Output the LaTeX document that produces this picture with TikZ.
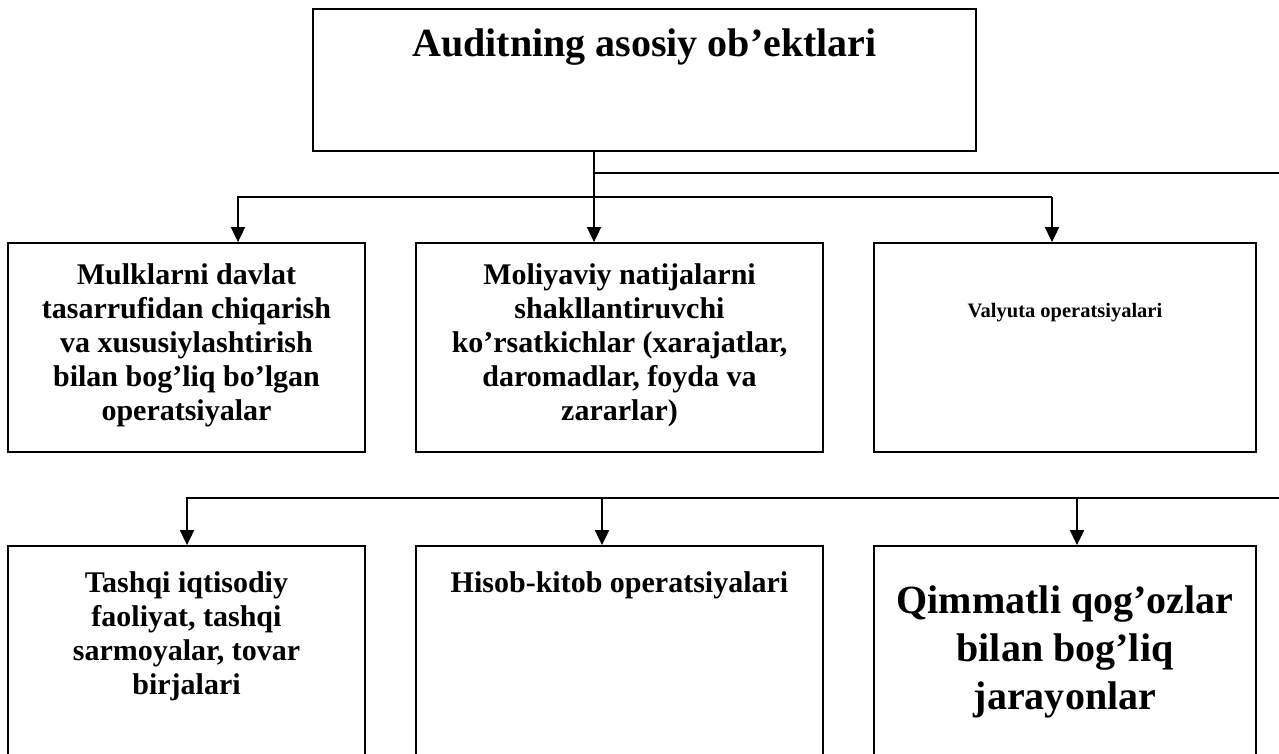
\documentclass[tikz,border=0pt]{standalone}
\usepackage{fontspec}
\setmainfont{Liberation Serif}
\usetikzlibrary{arrows.meta}
\begin{document}
\begin{tikzpicture}[x=1pt,y=-1pt,
  box/.style={draw, line width=1.8pt, inner sep=0pt},
  txt/.style={align=center, inner sep=0pt, anchor=north},
  mid/.style={font=\bfseries\fontsize{30}{34}\selectfont},
  big/.style={font=\bfseries\fontsize{40}{48}\selectfont},
  small/.style={font=\bfseries\fontsize{20.5}{24}\selectfont},
  conn/.style={line width=1.8pt},
  arr/.style={line width=1.8pt, -{Triangle[length=15pt,width=14pt]}}]
\useasboundingbox (0,0) rectangle (1279,753);
\clip (0,0) rectangle (1279,753);
% top box
\node[box, minimum width=663pt, minimum height=142pt] (top) at (644.5,80) {};
\node[txt, big] (ttop) at (644.5,29) {Auditning asosiy ob’ektlari};
% first row
\node[box, minimum width=357pt, minimum height=209pt] (b1) at (186.5,347.5) {};
\node[box, minimum width=407pt, minimum height=209pt] (b2) at (619.5,347.5) {};
\node[box, minimum width=382pt, minimum height=209pt] (b3) at (1065,347.5) {};
\node[txt, mid] (t1) at (186.5,263) {Mulklarni davlat\\tasarrufidan chiqarish\\va xususiylashtirish\\bilan bog’liq bo’lgan\\operatsiyalar};
\node[txt, mid] (t2) at (619.5,263) {Moliyaviy natijalarni\\shakllantiruvchi\\ko’rsatkichlar (xarajatlar,\\daromadlar, foyda va\\zararlar)};
\node[txt, small] (t3) at (1065,303) {Valyuta operatsiyalari};
% second row
\node[box, minimum width=357pt, minimum height=230pt] (b4) at (186.5,661) {};
\node[box, minimum width=407pt, minimum height=230pt] (b5) at (619.5,661) {};
\node[box, minimum width=382pt, minimum height=230pt] (b6) at (1065,661) {};
\node[txt, mid] (t4) at (186.5,571) {Tashqi iqtisodiy\\faoliyat, tashqi\\sarmoyalar, tovar\\birjalari};
\node[txt, mid] (t5) at (619.5,571) {Hisob-kitob operatsiyalari};
\node[txt, big] (t6) at (1065,586) {Qimmatli qog’ozlar\\bilan bog’liq\\jarayonlar};
% connector coordinates
\coordinate (v0) at (594,173);
\coordinate (e0) at (1281,173);
\coordinate (hL) at (238,197);
\coordinate (hR) at (1052,197);
\coordinate (gL) at (187,498);
\coordinate (gM) at (602,498);
\coordinate (gR) at (1077,498);
\coordinate (gE) at (1281,498);
% connectors
\draw[arr] (top.south -| v0) -- (b2.north -| v0);
\draw[conn] (v0) -- (e0);
\draw[arr] (hR) -- (hL) -- (hL |- b1.north);
\draw[arr] (hR) -- (hR |- b3.north);
\draw[arr] (gE) -- (gL) -- (gL |- b4.north);
\draw[arr] (gM) -- (gM |- b5.north);
\draw[arr] (gR) -- (gR |- b6.north);
\end{tikzpicture}
\end{document}
